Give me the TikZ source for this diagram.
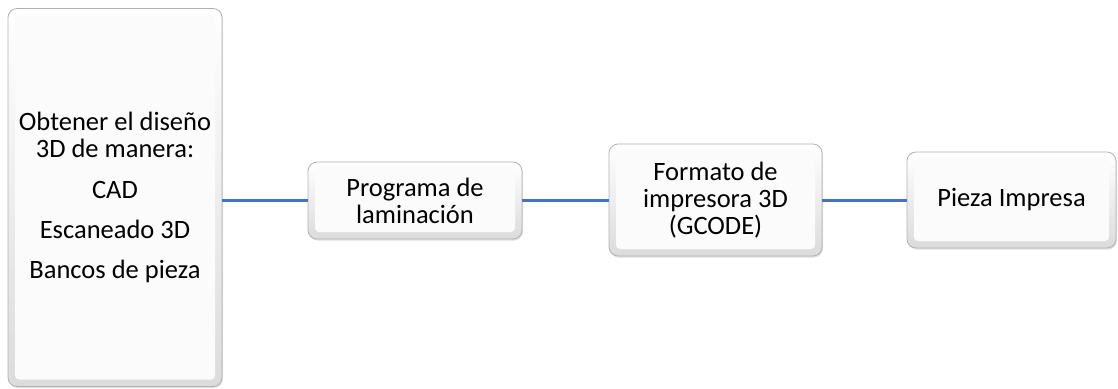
\documentclass[tikz,border=0pt]{standalone}
\usepackage{fontspec}
\setmainfont{Carlito}
\usetikzlibrary{shadows}
\definecolor{linkblue}{HTML}{4472C4}
\tikzset{
  box/.style={draw=gray!60, line width=0.8pt, rounded corners=9pt,
    top color=white, bottom color=gray!28, align=center, text=black,
    inner sep=0pt, font=\fontsize{26.5}{27}\selectfont,
    drop shadow={opacity=0.25, shadow xshift=1pt, shadow yshift=-1.5pt},
    path picture={\fill[white!97!gray, rounded corners=4pt]
      ([shift={(7pt,-7pt)}]path picture bounding box.north west) rectangle
      ([shift={(-7pt,7pt)}]path picture bounding box.south east);}},
  link/.style={draw=linkblue, line width=3pt}
}
\begin{document}
\begin{tikzpicture}[x=1pt,y=-1pt]
\useasboundingbox (0,0) rectangle (1118,388);
\node[box, minimum width=214pt, minimum height=378pt] (b1) at (115,197.5)
  {Obtener el diseño\\3D de manera:\\[14pt]CAD\\[13pt]Escaneado 3D\\[13pt]Bancos de pieza};
\node[box, minimum width=214pt, minimum height=77pt] (b2) at (415,200.5)
  {Programa de\\laminación};
\node[box, minimum width=213pt, minimum height=112pt] (b3) at (715.5,200)
  {Formato de\\impresora 3D\\(GCODE)};
\node[box, minimum width=209pt, minimum height=96pt] (b4) at (1011.5,200)
  {Pieza Impresa};
\draw[link] (b1.east |- b2.west) -- (b2.west);
\draw[link] (b2.east |- b3.west) -- (b3.west);
\draw[link] (b3.east) -- (b4.west);
\end{tikzpicture}
\end{document}
